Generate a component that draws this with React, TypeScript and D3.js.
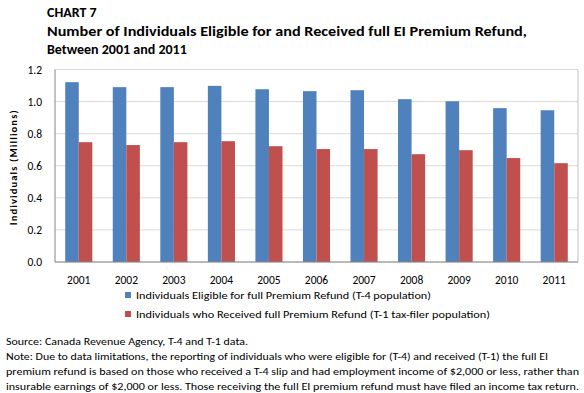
import React from 'react';
import * as d3 from 'd3';

const years = ['2001', '2002', '2003', '2004', '2005', '2006', '2007', '2008', '2009', '2010', '2011'];
const eligible = [1.121, 1.09, 1.09, 1.098, 1.077, 1.065, 1.071, 1.015, 1.002, 0.959, 0.946];
const received = [0.747, 0.729, 0.747, 0.753, 0.722, 0.704, 0.704, 0.672, 0.697, 0.648, 0.616];
const yTicks = [0, 0.2, 0.4, 0.6, 0.8, 1.0, 1.2];
const seriesNames = [
  'Individuals Eligible for full Premium Refund (T-4 population)',
  'Individuals who Received full Premium Refund (T-1 tax-filer population)',
];
const colors = ['#4F81BD', '#C0504D'];
const titleLines = [
  'CHART 7',
  'Number of Individuals Eligible for and Received full EI Premium Refund,',
  'Between 2001 and 2011',
];
const noteLines = [
  'Source: Canada Revenue Agency, T-4 and T-1 data.',
  'Note: Due to data limitations, the reporting of individuals who were eligible for (T-4) and received (T-1) the full EI',
  'premium refund is based on those who received a T-4 slip and had employment income of $2,000 or less, rather than',
  'insurable earnings of $2,000 or less. Those receiving the full EI premium refund must have filed an income tax return.',
];
const noteWidths = [242, 542, 573, 573];

const W = 584;
const H = 393;
const font = 'Carlito, Calibri, "Open Sans", "Noto Sans", sans-serif';

export default function App() {
  const left = 55, right = 578, top = 69.5, bottom = 262;

  const x = d3.scaleBand<string>().domain(years).range([left, right]).paddingInner(0.43).paddingOuter(0.215);
  const xs = d3.scaleBand<number>().domain([0, 1]).range([0, x.bandwidth()]);
  const y = d3.scaleLinear().domain([0, 1.2]).range([bottom, top]);
  const series = [eligible, received];

  return (
    <svg width={W} height={H} style={{ position: 'absolute', left: 0, top: 0, fontFamily: font }}>
      <rect width={W} height={H} fill="#fff" />
      {titleLines.map((t, i) => (
        <text key={t} x={47} y={[17, 36, 54][i]} fontSize={14} fontWeight="bold" fill="#000"
          textLength={i === 1 ? 480 : undefined} lengthAdjust="spacingAndGlyphs">{t}</text>
      ))}

      {/* gridlines */}
      {yTicks.map(t => (
        <line key={t} x1={left} x2={right} y1={y(t)} y2={y(t)} stroke="#d9d9d9" strokeWidth={1} />
      ))}
      <line x1={right} x2={right} y1={top} y2={bottom} stroke="#bfbfbf" />

      {/* bars */}
      {years.map((yr, i) => (
        <g key={yr}>
          {series.map((s, j) => (
            <rect key={j} x={(x(yr) || 0) + (xs(j) || 0)} y={y(s[i])} width={xs.bandwidth()}
              height={y(0) - y(s[i])} fill={colors[j]} />
          ))}
          <text x={(x(yr) || 0) + x.bandwidth() / 2} y={284} fontSize={11.5} textAnchor="middle" fill="#000">{yr}</text>
        </g>
      ))}

      {/* axes */}
      <line x1={left} x2={left} y1={top} y2={bottom} stroke="#868686" />
      <line x1={left} x2={right} y1={bottom} y2={bottom} stroke="#868686" />
      {yTicks.map(t => (
        <text key={t} x={42} y={y(t) + 4} fontSize={11.5} textAnchor="end" fill="#000">{t.toFixed(1)}</text>
      ))}
      <text transform={`translate(17,${(top + bottom) / 2 + 2}) rotate(-90)`} fontSize={10.5} fontWeight="bold"
        textAnchor="middle" fill="#000" textLength={115} lengthAdjust="spacing">Individuals   (Millions)</text>

      {/* legend */}
      {seriesNames.map((n, i) => (
        <g key={n} transform={`translate(125,${292 + i * 19})`}>
          <rect width={6} height={6} fill={colors[i]} />
          <text x={11} y={7} fontSize={11} fill="#000" textLength={i === 0 ? 295 : 354}
            lengthAdjust="spacingAndGlyphs">{n}</text>
        </g>
      ))}

      {/* notes */}
      {noteLines.map((n, i) => (
        <text key={i} x={6} y={345 + i * 15} fontSize={10.5} fill="#000" textLength={noteWidths[i]}
          lengthAdjust="spacingAndGlyphs">{n}</text>
      ))}
    </svg>
  );
}
